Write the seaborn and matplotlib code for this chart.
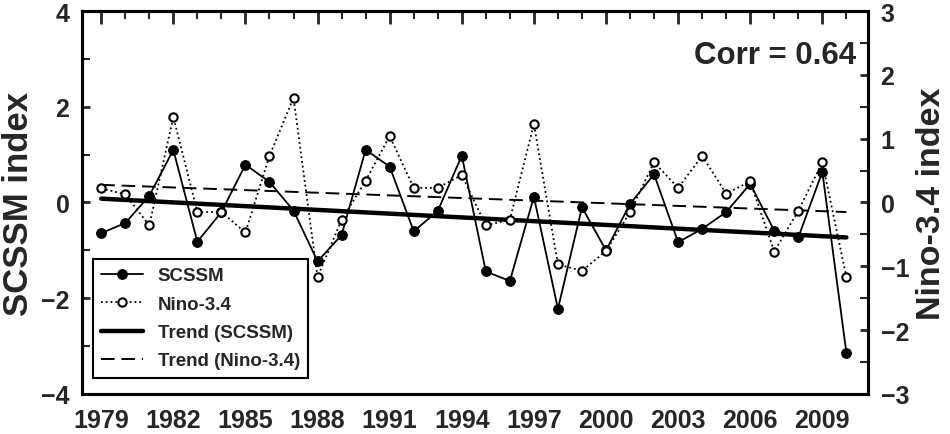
import numpy as np
import pandas as pd
import matplotlib
matplotlib.use("Agg")
import matplotlib.pyplot as plt
from matplotlib.ticker import MultipleLocator
import seaborn as sns

# Data
years = list(range(1979, 2011))
scssm = [-0.64, -0.43, 0.14, 1.10, -0.82, -0.20, 0.79, 0.43, -0.17, -1.23,
         -0.68, 1.10, 0.75, -0.60, -0.18, 0.98, -1.44, -1.64, 0.12, -2.22,
         -0.10, -1.00, -0.03, 0.59, -0.83, -0.55, -0.20, 0.39, -0.59, -0.73,
         0.64, -3.14]
nino34 = [0.22, 0.13, -0.36, 1.34, -0.15, -0.15, -0.47, 0.73, 1.64, -1.17,
          -0.27, 0.34, 1.04, 0.23, 0.23, 0.43, -0.36, -0.27, 1.23, -0.97,
          -1.07, -0.76, -0.15, 0.63, 0.23, 0.73, 0.14, 0.33, -0.77, -0.13,
          0.63, -1.17]
corr_text = "Corr = 0.64"

df = pd.DataFrame({"year": years, "scssm": scssm, "nino": nino34})

# linear trends
p1 = np.polyfit(df["year"], df["scssm"], 1)
p2 = np.polyfit(df["year"], df["nino"], 1)
df["scssm_trend"] = np.polyval(p1, df["year"])
df["nino_trend"] = np.polyval(p2, df["year"])

sns.set_style("white")
plt.rcParams["font.family"] = ["Liberation Sans", "DejaVu Sans"]
plt.rcParams["font.weight"] = "bold"
plt.rcParams["axes.labelweight"] = "bold"

fig = plt.figure(figsize=(9.5, 4.35), dpi=100)
ax = fig.add_axes([0.0863, 0.092, 0.8274, 0.8804])
ax2 = ax.twinx()

sns.lineplot(data=df, x="year", y="scssm_trend", ax=ax, color="black",
             linewidth=3.2, label="Trend (SCSSM)", legend=False)
sns.lineplot(data=df, x="year", y="scssm", ax=ax, color="black", linewidth=1.3,
             marker="o", markersize=7, markeredgecolor="black",
             label="SCSSM", legend=False)
sns.lineplot(data=df, x="year", y="nino_trend", ax=ax2, color="black",
             linewidth=1.4, linestyle=(0, (7, 3.5)), label="Trend (Nino-3.4)",
             legend=False)
sns.lineplot(data=df, x="year", y="nino", ax=ax2, color="black", linewidth=1.3,
             linestyle=":", marker="o", markersize=6, markerfacecolor="white",
             markeredgecolor="black", markeredgewidth=1.5,
             label="Nino-3.4", legend=False)

ax.set_xlim(1978.2, 2010.9)
ax.set_ylim(-4, 4)
ax2.set_ylim(-3, 3)

ax.set_xticks(list(range(1979, 2011, 3)))
ax.xaxis.set_minor_locator(MultipleLocator(1))
ax.yaxis.set_major_locator(MultipleLocator(2))
ax.yaxis.set_minor_locator(MultipleLocator(1))
ax2.yaxis.set_major_locator(MultipleLocator(1))
ax2.yaxis.set_minor_locator(MultipleLocator(0.5))

ax.tick_params(axis="x", which="major", direction="in", length=9, width=2,
               top=True, labelsize=18, pad=10)
ax.tick_params(axis="x", which="minor", direction="in", length=5.5, width=1.5,
               top=True)
ax.tick_params(axis="y", which="major", direction="in", length=6, width=2,
               labelsize=18, pad=9)
ax.tick_params(axis="y", which="minor", direction="in", length=6, width=1.5)
ax2.tick_params(axis="y", which="major", direction="in", length=6, width=2,
                labelsize=18, pad=9)
ax2.tick_params(axis="y", which="minor", direction="in", length=6, width=1.5)

for a in (ax, ax2):
    for s in a.spines.values():
        s.set_linewidth(2.2)
        s.set_color("black")

ax.set_xlabel("")
ax.set_ylabel("SCSSM index", fontsize=25, labelpad=4)
ax2.set_ylabel("Nino-3.4 index", fontsize=24.5, labelpad=5)

ax2.text(0.985, 0.925, corr_text, transform=ax2.transAxes, ha="right",
         va="top", fontsize=22.5, fontweight="bold")

h1, l1 = ax.get_legend_handles_labels()
h2, l2 = ax2.get_legend_handles_labels()
hd = dict(zip(l1 + l2, h1 + h2))
order = ["SCSSM", "Nino-3.4", "Trend (SCSSM)", "Trend (Nino-3.4)"]
leg = ax2.legend([hd[k] for k in order], order, loc="lower left",
                 bbox_to_anchor=(0.014, 0.042), borderaxespad=0,
                 fontsize=13.5, handlelength=2.2, labelspacing=0.6,
                 frameon=True, fancybox=False, framealpha=1,
                 edgecolor="black", borderpad=0.45)
leg.get_frame().set_linewidth(1.5)
leg.set_zorder(10)

fig.savefig("out.png", dpi=100)
